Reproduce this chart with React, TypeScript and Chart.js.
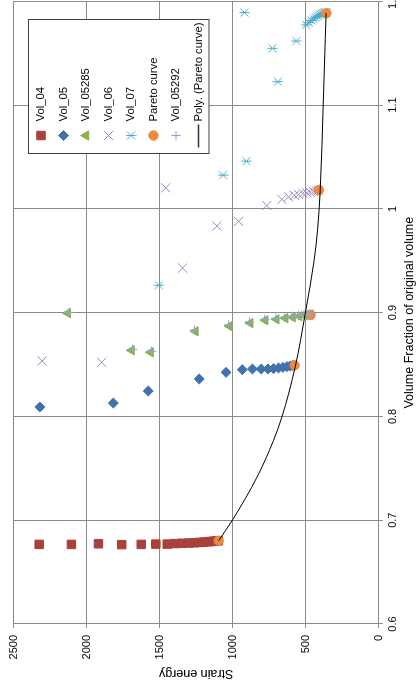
import React, { useEffect, useRef } from 'react';
import { Chart, registerables } from 'chart.js';
import { drawPoint } from 'chart.js/helpers';

Chart.register(...registerables);

// ---- Axis ticks ----
const volumeTickValues = [0.6, 0.7, 0.8, 0.9, 1, 1.1, 1.2];
const volumeTickLabels = ['0.6', '0.7', '0.8', '0.9', '1', '1.1', '1.2'];
const energyTickValues = [0, 500, 1000, 1500, 2000, 2500];
const energyTickLabels = ['0', '500', '1000', '1500', '2000', '2500'];

const volumeTitle = 'Volume Fraction of original volume';
const energyTitle = 'Strain energy';

// ---- Series (x = volume fraction, y = strain energy) ----
const vol04Volume = [0.6767, 0.6767, 0.6773, 0.6765, 0.6767, 0.677, 0.677, 0.6775, 0.6778, 0.678, 0.6783, 0.6786, 0.6789, 0.6792, 0.6795, 0.6797, 0.68, 0.6802];
const vol04Energy = [2325, 2104, 1919, 1760, 1626, 1526, 1448, 1395, 1345, 1300, 1262, 1228, 1198, 1172, 1150, 1130, 1112, 1098];

const vol05Volume = [0.8091, 0.8129, 0.8245, 0.8361, 0.8425, 0.8451, 0.8457, 0.8457, 0.8457, 0.8461, 0.8467, 0.8473, 0.848, 0.8486, 0.849, 0.8492];
const vol05Energy = [2320, 1817, 1578, 1229, 1045, 934, 865, 804, 758, 720, 686, 656, 628, 606, 590, 578];

const vol05285Volume = [0.8995, 0.8637, 0.8618, 0.882, 0.887, 0.89, 0.8927, 0.8936, 0.8947, 0.8956, 0.8966, 0.8974, 0.898, 0.8982];
const vol05285Energy = [2129, 1692, 1562, 1255, 1022, 880, 777, 701, 640, 590, 545, 508, 480, 466];

const vol06Volume = [0.8535, 0.8522, 1.0203, 0.943, 0.9835, 0.988, 1.0032, 1.0091, 1.0116, 1.013, 1.0139, 1.0149, 1.0155, 1.0161, 1.0168, 1.0174, 1.018];
const vol06Energy = [2305, 1897, 1458, 1343, 1108, 960, 766, 663, 617, 578, 549, 519, 492, 469, 447, 428, 412];

const vol07Volume = [0.9264, 1.0325, 1.046, 1.1891, 1.1547, 1.1225, 1.1617, 1.1772, 1.1795, 1.1815, 1.183, 1.1845, 1.1855, 1.1865, 1.1872, 1.1878, 1.1882, 1.1886, 1.1888, 1.189, 1.1892];
const vol07Energy = [1505, 1066, 906, 920, 727, 690, 565, 497, 478, 460, 445, 432, 420, 409, 399, 390, 382, 375, 369, 363, 358];

const paretoVolume = [0.6803, 0.8492, 0.8978, 1.0182, 1.1886];
const paretoEnergy = [1096, 576, 466, 410, 358];

const vol05292Volume = [0.9003, 0.8646, 0.8627, 0.8833, 0.8882, 0.8911, 0.8935, 0.8945, 0.8955, 0.8964, 0.8972, 0.8979, 0.8984, 0.8986];
const vol05292Energy = [2122, 1686, 1556, 1262, 1027, 884, 781, 705, 644, 594, 550, 512, 484, 470];

// Polynomial trendline of the Pareto curve
const trendVolume = [0.6803, 0.7005, 0.7416, 0.777, 0.7994, 0.8476, 0.8991, 0.9505, 0.979, 1.0164, 1.1, 1.163, 1.1886];
const trendEnergy = [1096, 1000, 833, 720, 663, 572, 503, 442, 419, 401, 380, 366, 360];

const FONT = '"Liberation Sans", Arial, sans-serif';
const GRID = '#8a8a8a';

const pairs = (xs: number[], ys: number[]) => xs.map((x, i) => ({ x, y: ys[i] }));

function makeStarMarker(color: string, size: number) {
  const c = document.createElement('canvas');
  c.width = size;
  c.height = size;
  const g = c.getContext('2d')!;
  g.strokeStyle = color;
  g.lineWidth = 1;
  const m = size / 2;
  const d = size / 2 - 1.5;
  g.beginPath();
  g.moveTo(m - d, m - d);
  g.lineTo(m + d, m + d);
  g.moveTo(m + d, m - d);
  g.lineTo(m - d, m + d);
  g.moveTo(m, 0.5);
  g.lineTo(m, size - 0.5);
  g.stroke();
  return c;
}

const boxLegend = {
  id: 'boxLegend',
  afterDraw(chart: any) {
    const { ctx } = chart;
    const left = 535.5;
    const top = 28.5;
    const width = 134;
    const height = 180.5;
    ctx.save();
    ctx.fillStyle = '#ffffff';
    ctx.fillRect(left, top, width, height);
    ctx.strokeStyle = '#404040';
    ctx.lineWidth = 1;
    ctx.strokeRect(left, top, width, height);
    ctx.font = `11.3px ${FONT}`;
    ctx.textBaseline = 'middle';
    ctx.textAlign = 'left';
    chart.data.datasets.forEach((ds: any, i: number) => {
      const y = top + 12.5 + i * 22.5;
      const mx = left + 18;
      if (ds.showLine) {
        ctx.strokeStyle = '#303030';
        ctx.lineWidth = 1.5;
        ctx.beginPath();
        ctx.moveTo(mx - 12, y);
        ctx.lineTo(mx + 11, y);
        ctx.stroke();
      } else {
        ctx.fillStyle = ds.backgroundColor;
        ctx.strokeStyle = ds.borderColor;
        ctx.lineWidth = ds.borderWidth;
        drawPoint(ctx, { pointStyle: ds.pointStyle, radius: ds.pointRadius, borderWidth: ds.borderWidth, rotation: 0 }, mx, y);
      }
      ctx.fillStyle = '#000000';
      ctx.fillText(ds.label, left + 32, y);
    });
    ctx.restore();
  },
};

export default function App() {
  const canvasRef = useRef<HTMLCanvasElement>(null);

  useEffect(() => {
    const canvas = canvasRef.current;
    if (!canvas) return;
    const star = makeStarMarker('#4aaac6', 11);
    const n = 8;
    const marker = (i: number, label: string, data: any[], style: any, color: string, radius: number, filled: boolean) => ({
      label,
      data,
      pointStyle: style,
      pointRadius: radius,
      pointHoverRadius: radius,
      backgroundColor: filled ? color : 'rgba(0,0,0,0)',
      borderColor: color,
      borderWidth: 1,
      showLine: false,
      order: n - i,
    });

    const chart = new Chart(canvas, {
      type: 'scatter',
      data: {
        datasets: [
          marker(0, 'Vol_04', pairs(vol04Volume, vol04Energy), 'rect', '#a8403d', 6, true),
          marker(1, 'Vol_05', pairs(vol05Volume, vol05Energy), 'rectRot', '#4272ad', 5, true),
          marker(2, 'Vol_05285', pairs(vol05285Volume, vol05285Energy), 'triangle', '#8db04e', 5.4, true),
          marker(3, 'Vol_06', pairs(vol06Volume, vol06Energy), 'crossRot', '#9c88c0', 6.5, false),
          marker(4, 'Vol_07', pairs(vol07Volume, vol07Energy), star, '#4aaac6', 5.5, false),
          marker(5, 'Pareto curve', pairs(paretoVolume, paretoEnergy), 'circle', '#e98a3e', 4.7, true),
          marker(6, 'Vol_05292', pairs(vol05292Volume, vol05292Energy), 'cross', '#8ca8da', 4.8, false),
          {
            label: 'Poly. (Pareto curve)',
            data: pairs(trendVolume, trendEnergy),
            showLine: true,
            pointRadius: 0,
            borderColor: '#000000',
            backgroundColor: '#000000',
            borderWidth: 1,
            cubicInterpolationMode: 'monotone',
            fill: false,
            order: 0,
          } as any,
        ],
      },
      options: {
        responsive: false,
        animation: false,
        devicePixelRatio: 1,
        events: [],
        layout: { padding: { left: 0, top: 12.7, right: 32.3, bottom: 0 } },
        plugins: {
          legend: { display: false },
          tooltip: { enabled: false },
        },
        scales: {
          x: {
            type: 'linear',
            position: 'bottom',
            min: 0.6,
            max: 1.2,
            afterBuildTicks: (scale: any) => {
              scale.ticks = volumeTickValues.map((v) => ({ value: v }));
            },
            afterFit: (scale: any) => {
              scale.height = 38.3;
            },
            ticks: {
              autoSkip: false,
              maxRotation: 0,
              minRotation: 0,
              padding: 4,
              color: '#000000',
              font: { family: FONT, size: 11 },
              callback: (_v: any, i: number) => volumeTickLabels[i],
            },
            grid: { color: GRID, lineWidth: 1, drawTicks: true, tickLength: 4, tickColor: GRID },
            border: { display: true, color: GRID, width: 1 },
            title: {
              display: true,
              text: volumeTitle,
              color: '#000000',
              font: { family: FONT, size: 12.5 },
              padding: { top: 0, bottom: 0 },
            },
          },
          y: {
            type: 'linear',
            position: 'left',
            min: 0,
            max: 2500,
            afterBuildTicks: (scale: any) => {
              scale.ticks = energyTickValues.map((v) => ({ value: v }));
            },
            afterFit: (scale: any) => {
              scale.width = 65;
            },
            ticks: {
              autoSkip: false,
              padding: 7,
              color: '#000000',
              font: { family: FONT, size: 11 },
              callback: (_v: any, i: number) => energyTickLabels[i],
            },
            grid: { color: GRID, lineWidth: 1, drawTicks: true, tickLength: 4, tickColor: GRID },
            border: { display: true, color: GRID, width: 1 },
            title: {
              display: true,
              text: energyTitle,
              color: '#000000',
              font: { family: FONT, size: 12.5 },
              padding: { top: 8.5, bottom: 0 },
            },
          },
        },
      },
      plugins: [boxLegend],
    } as any);

    return () => chart.destroy();
  }, []);

  return (
    <div style={{ position: 'fixed', left: 0, top: 0, width: 417, height: 689, overflow: 'hidden', background: '#ffffff' }}>
      <div
        style={{
          position: 'absolute',
          left: 0,
          top: 0,
          width: 689,
          height: 417,
          overflow: 'hidden',
          transformOrigin: '0 0',
          transform: 'translateY(689px) rotate(-90deg)',
          background: '#ffffff',
        }}
      >
        <canvas ref={canvasRef} width={720} height={417} style={{ display: 'block', width: 720, height: 417 }} />
      </div>
    </div>
  );
}
